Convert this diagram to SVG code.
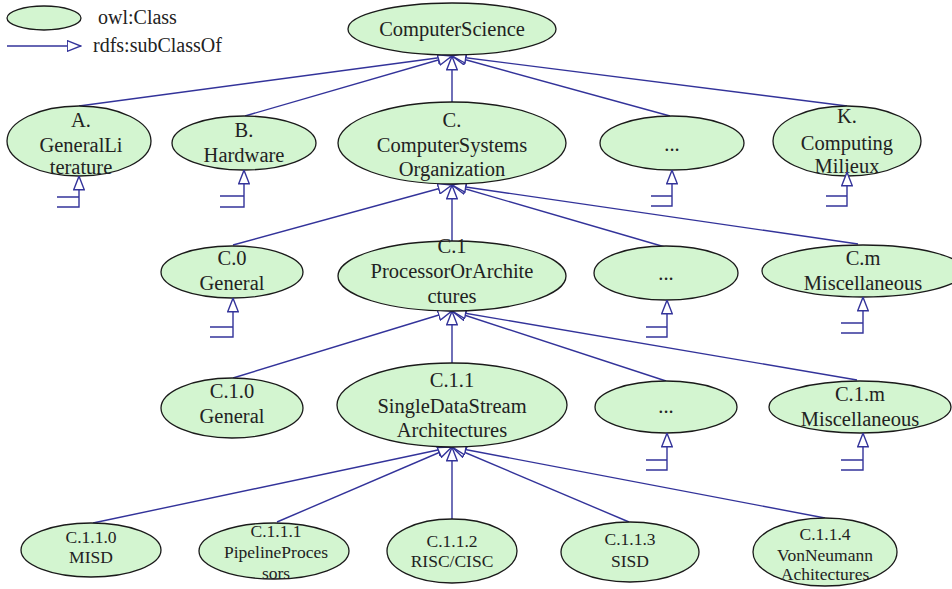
<svg xmlns="http://www.w3.org/2000/svg" width="952" height="589" viewBox="0 0 952 589">
<style>
.n{fill:#d3f5d0;stroke:#1a1a1a;stroke-width:1.3}
text{font-family:'Liberation Serif','Times New Roman','DejaVu Serif',serif;font-size:20.5px;fill:#222;text-anchor:middle}
text.s{font-size:17.5px}
text.l{text-anchor:start;font-size:20px}
.e{fill:none;stroke:#33339a;stroke-width:1.4;marker-end:url(#tri)}
.st{fill:none;stroke:#33339a;stroke-width:1.4}
</style>
<defs>
<marker id="tri" markerUnits="userSpaceOnUse" viewBox="0 0 15 12" refX="14.5" refY="6" markerWidth="15" markerHeight="12" orient="auto">
<path d="M0.7,0.7 L14.3,6 L0.7,11.3 Z" fill="#fff" stroke="#33339a" stroke-width="1.4"/>
</marker>
</defs>
<rect width="952" height="589" fill="#fff"/>
<g id="legend" font-family="Liberation Serif, serif">
<ellipse class="n" cx="44" cy="18" rx="37" ry="12"/>
<text class="l" x="98" y="24">owl:Class</text>
<path class="e" d="M7,46 H81"/>
<text class="l" x="93" y="52">rdfs:subClassOf</text>
</g>
<g id="connectors">
<path class="e" d="M79,106 L452,56"/>
<path class="e" d="M245,116 L452,56"/>
<path class="e" d="M452,102 L452,56"/>
<path class="e" d="M670,116 L452,56"/>
<path class="e" d="M847,106 L452,56"/>
<path class="e" d="M233,245 L452,185"/>
<path class="e" d="M452,241 L452,185"/>
<path class="e" d="M665,247 L452,185"/>
<path class="e" d="M858,244 L452,185"/>
<path class="e" d="M233,378 L452,311"/>
<path class="e" d="M452,363 L452,311"/>
<path class="e" d="M666,381 L452,311"/>
<path class="e" d="M857,380 L452,311"/>
<path class="e" d="M93,523 L452,447"/>
<path class="e" d="M277,522 L452,447"/>
<path class="e" d="M452,519 L452,447"/>
<path class="e" d="M629,522 L452,447"/>
<path class="e" d="M825,518 L452,447"/>
</g>
<g id="ComputerScience">
<ellipse class="n" cx="452" cy="29" rx="104" ry="26"/>
<text x="452" y="36">ComputerScience</text>
</g>
<g id="A">
<ellipse class="n" cx="79" cy="141" rx="72" ry="35"/>
<text x="81" y="127">A.</text>
<text x="81" y="152">GeneralLi</text>
<text x="81" y="174">terature</text>
</g>
<g id="B">
<ellipse class="n" cx="244" cy="143" rx="72" ry="27"/>
<text x="244" y="137">B.</text>
<text x="244" y="162">Hardware</text>
</g>
<g id="C">
<ellipse class="n" cx="452" cy="143" rx="114" ry="41"/>
<text x="452" y="127">C.</text>
<text x="452" y="152">ComputerSystems</text>
<text x="452" y="176">Organization</text>
</g>
<g id="dots1">
<ellipse class="n" cx="672" cy="143" rx="72" ry="27"/>
<text x="672" y="151">...</text>
</g>
<g id="K">
<ellipse class="n" cx="847" cy="141" rx="74" ry="35"/>
<text x="847" y="123">K.</text>
<text x="847" y="150">Computing</text>
<text x="847" y="173">Milieux</text>
</g>
<g id="C0">
<ellipse class="n" cx="232" cy="272" rx="71" ry="26"/>
<text x="232" y="265">C.0</text>
<text x="232" y="290">General</text>
</g>
<g id="C1">
<ellipse class="n" cx="452" cy="276" rx="114" ry="35"/>
<text x="452" y="253">C.1</text>
<text x="452" y="278">ProcessorOrArchite</text>
<text x="452" y="303">ctures</text>
</g>
<g id="dots2">
<ellipse class="n" cx="666" cy="273" rx="72" ry="27"/>
<text x="666" y="280">...</text>
</g>
<g id="Cm">
<ellipse class="n" cx="863" cy="271" rx="101" ry="26"/>
<text x="863" y="265">C.m</text>
<text x="863" y="290">Miscellaneous</text>
</g>
<g id="C10">
<ellipse class="n" cx="232" cy="408" rx="71" ry="30"/>
<text x="232" y="398">C.1.0</text>
<text x="232" y="423">General</text>
</g>
<g id="C11">
<ellipse class="n" cx="452" cy="405" rx="115" ry="42"/>
<text x="452" y="387">C.1.1</text>
<text x="452" y="413">SingleDataStream</text>
<text x="452" y="437">Architectures</text>
</g>
<g id="dots3">
<ellipse class="n" cx="666" cy="407" rx="71" ry="26"/>
<text x="666" y="413">...</text>
</g>
<g id="C1m">
<ellipse class="n" cx="860" cy="407" rx="91" ry="26"/>
<text x="860" y="401">C.1.m</text>
<text x="860" y="426">Miscellaneous</text>
</g>
<g id="C110">
<ellipse class="n" cx="91" cy="550" rx="70" ry="27"/>
<text class="s" x="91" y="543">C.1.1.0</text>
<text class="s" x="91" y="563">MISD</text>
</g>
<g id="C111">
<ellipse class="n" cx="274" cy="551" rx="75" ry="28"/>
<text class="s" x="276" y="537">C.1.1.1</text>
<text class="s" x="276" y="558">PipelineProces</text>
<text class="s" x="276" y="579">sors</text>
</g>
<g id="C112">
<ellipse class="n" cx="452" cy="551" rx="65" ry="32"/>
<text class="s" x="452" y="547">C.1.1.2</text>
<text class="s" x="452" y="567">RISC/CISC</text>
</g>
<g id="C113">
<ellipse class="n" cx="630" cy="552" rx="69" ry="30"/>
<text class="s" x="630" y="545">C.1.1.3</text>
<text class="s" x="630" y="567">SISD</text>
</g>
<g id="C114">
<ellipse class="n" cx="825" cy="552" rx="72" ry="34"/>
<text class="s" x="825" y="540">C.1.1.4</text>
<text class="s" x="825" y="561">VonNeumann</text>
<text class="s" x="825" y="580">Achitectures</text>
</g>
<g id="stubs">
<path class="st" d="M57,197 H79 M57,207 H79 V192"/>
<path class="e" d="M79,192 V176"/>
<path class="st" d="M220,196 H244 M220,207 H244 V186"/>
<path class="e" d="M244,186 V170"/>
<path class="st" d="M651,196 H672 M651,206 H672 V186"/>
<path class="e" d="M672,186 V170"/>
<path class="st" d="M826,196 H847 M826,206 H847 V187"/>
<path class="e" d="M847,187 V172"/>
<path class="st" d="M210,327 H233 M210,337 H233 V314"/>
<path class="e" d="M233,314 V298"/>
<path class="st" d="M646,327 H667 M646,337 H667 V316"/>
<path class="e" d="M667,316 V300"/>
<path class="st" d="M841,323 H863 M841,333 H863 V313"/>
<path class="e" d="M863,313 V297"/>
<path class="st" d="M646,460 H667 M646,470 H667 V449"/>
<path class="e" d="M667,449 V433"/>
<path class="st" d="M841,460 H863 M841,470 H863 V449"/>
<path class="e" d="M863,449 V433"/>
</g>
</svg>
